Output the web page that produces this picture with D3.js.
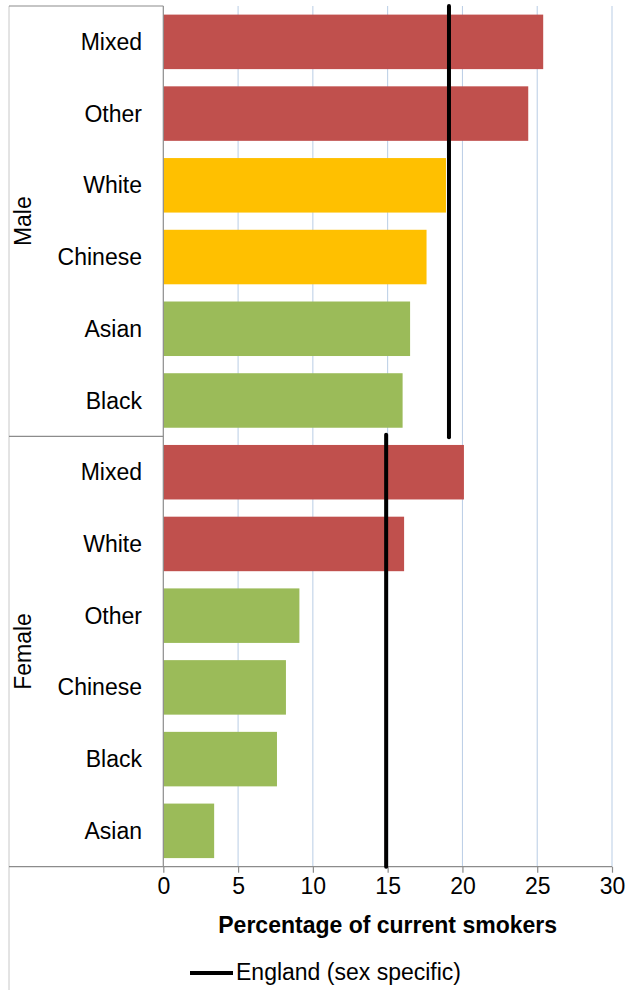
<!DOCTYPE html>
<html>
<head>
<meta charset="utf-8">
<script src="https://cdn.jsdelivr.net/npm/d3@7"></script>
<style>
  html, body { margin: 0; padding: 0; background: #fff; }
  svg { display: block; font-family: "Liberation Sans", Arial, sans-serif; }
</style>
</head>
<body>
<svg id="chart" width="626" height="990"></svg>
<script>
// ---- data ----
const sexes = ["Male", "Female"];
const maleCategories = ["Mixed", "Other", "White", "Chinese", "Asian", "Black"];
const maleValues = [25.4, 24.4, 18.9, 17.6, 16.5, 16.0];
const maleColors = ["red", "red", "amber", "amber", "green", "green"];
const femaleCategories = ["Mixed", "White", "Other", "Chinese", "Black", "Asian"];
const femaleValues = [20.1, 16.1, 9.1, 8.2, 7.6, 3.4];
const femaleColors = ["red", "red", "green", "green", "green", "green"];
const englandValues = [19.1, 14.9];
const xTicks = [0, 5, 10, 15, 20, 25, 30];
const xTitle = "Percentage of current smokers";
const legendLabel = "England (sex specific)";

const palette = { red: "#C0504D", amber: "#FFC000", green: "#9BBB59" };

const rows = [];
maleCategories.forEach((c, i) => rows.push({ key: "M-" + c, sex: "Male", cat: c, value: maleValues[i], col: maleColors[i] }));
femaleCategories.forEach((c, i) => rows.push({ key: "F-" + c, sex: "Female", cat: c, value: femaleValues[i], col: femaleColors[i] }));

const svg = d3.select("#chart");
const pLeft = 163.3, pRight = 612, pTop = 6, pBottom = 866.7, outerLeft = 9;
const fs = 23;

const x = d3.scaleLinear().domain([0, 30]).range([pLeft, pRight]);
const y = d3.scaleBand().domain(rows.map(d => d.key)).range([pTop, pBottom])
  .paddingInner(0.24).paddingOuter(0.12);
const step = y.step();

// gridlines
svg.append("g").selectAll("line").data(xTicks.filter(t => t > 0)).join("line")
  .attr("x1", d => x(d)).attr("x2", d => x(d))
  .attr("y1", pTop).attr("y2", pBottom)
  .attr("stroke", "#B9CDE5").attr("stroke-width", 1);

// bars
svg.append("g").selectAll("rect").data(rows).join("rect")
  .attr("x", x(0)).attr("y", d => y(d.key))
  .attr("width", d => x(d.value) - x(0))
  .attr("height", y.bandwidth())
  .attr("fill", d => palette[d.col]);

// frame lines (category box)
const axisCol = "#8C8C8C";
svg.append("line").attr("x1", outerLeft).attr("x2", outerLeft).attr("y1", pTop).attr("y2", 990)
  .attr("stroke", "#C8C8C8").attr("stroke-width", 1);
const g = svg.append("g").attr("stroke", axisCol).attr("stroke-width", 1.2).attr("fill", "none");
g.append("line").attr("x1", outerLeft).attr("x2", pLeft).attr("y1", pTop).attr("y2", pTop);
g.append("line").attr("x1", outerLeft).attr("x2", pLeft).attr("y1", (pTop + pBottom) / 2).attr("y2", (pTop + pBottom) / 2);
g.append("line").attr("x1", pLeft).attr("x2", pLeft).attr("y1", pTop).attr("y2", pBottom);

// x axis
const xAxis = d3.axisBottom(x).tickValues(xTicks).tickSize(6).tickPadding(5).tickFormat(d3.format("d"));
const ax = svg.append("g").attr("transform", `translate(0,${pBottom})`).call(xAxis);
ax.select(".domain").remove();
ax.selectAll(".tick line").attr("stroke", axisCol).attr("stroke-width", 1.2);
ax.selectAll(".tick text").attr("font-size", fs).attr("fill", "#000")
  .attr("font-family", "Liberation Sans, Arial, sans-serif");
svg.append("line").attr("x1", outerLeft).attr("x2", pRight).attr("y1", pBottom).attr("y2", pBottom)
  .attr("stroke", axisCol).attr("stroke-width", 1.2);

// category labels
svg.append("g").selectAll("text").data(rows).join("text")
  .attr("x", 142).attr("y", d => y(d.key) + y.bandwidth() / 2)
  .attr("dy", "0.35em").attr("text-anchor", "end")
  .attr("font-size", fs).attr("fill", "#000")
  .text(d => d.cat);

// sex labels
const groupKeys = s => rows.filter(r => r.sex === s).map(r => r.key);
const groupMid = s => {
  const ks = groupKeys(s);
  return (y(ks[0]) + y(ks[ks.length - 1]) + y.bandwidth()) / 2;
};
svg.append("g").selectAll("text").data(sexes).join("text")
  .attr("transform", d => `translate(31,${groupMid(d)}) rotate(-90)`)
  .attr("text-anchor", "middle").attr("font-size", fs).attr("fill", "#000")
  .text(d => d);

// England lines
const groupRange = s => {
  const ks = groupKeys(s);
  const a = y(ks[0]) - step * y.paddingInner() / 2;
  const b = y(ks[ks.length - 1]) + y.bandwidth() + step * y.paddingInner() / 2;
  return [a, b];
};
svg.append("g").selectAll("line").data(sexes).join("line")
  .attr("x1", (d, i) => x(englandValues[i])).attr("x2", (d, i) => x(englandValues[i]))
  .attr("y1", d => Math.max(pTop, groupRange(d)[0]) - (d === "Female" ? 1.5 : 0))
  .attr("y2", d => Math.min(pBottom, groupRange(d)[1]) + (d === "Male" ? 1 : 0))
  .attr("stroke", "#000").attr("stroke-width", 4).attr("stroke-linecap", "round");

// axis title
svg.append("text").attr("x", (pLeft + pRight) / 2).attr("y", 933.3)
  .attr("text-anchor", "middle").attr("font-size", fs).attr("font-weight", "bold")
  .attr("fill", "#000").text(xTitle);

// legend
svg.append("line").attr("x1", 190).attr("x2", 233).attr("y1", 973).attr("y2", 973)
  .attr("stroke", "#000").attr("stroke-width", 4);
svg.append("text").attr("x", 236).attr("y", 980).attr("font-size", fs)
  .attr("fill", "#000").text(legendLabel);
</script>
</body>
</html>
